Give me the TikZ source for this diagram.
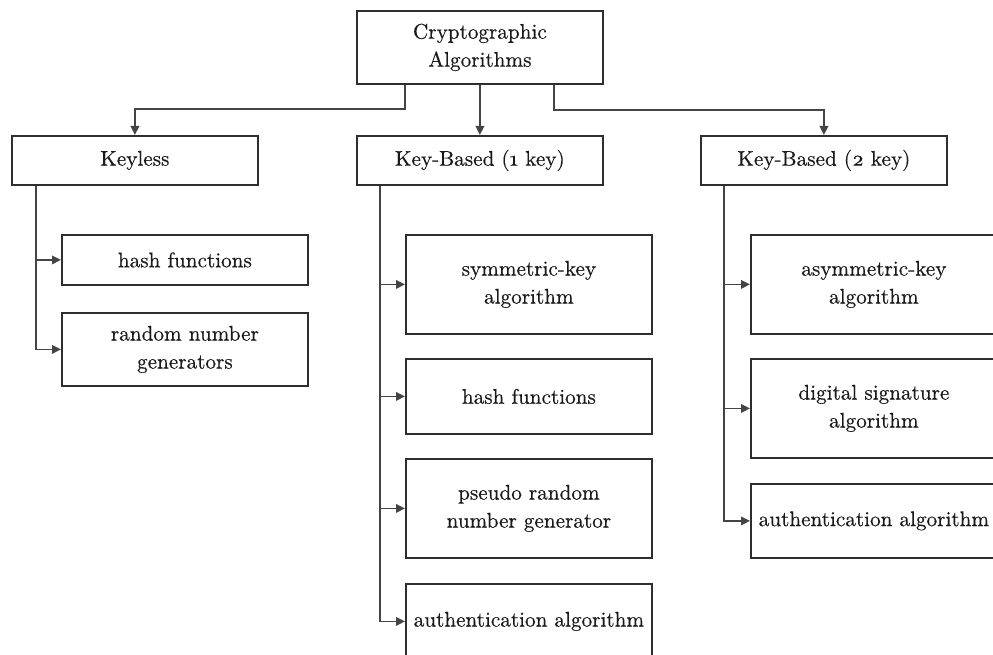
\documentclass[tikz,border=0pt]{standalone}
\usepackage{fontspec}
\setmainfont{lmroman10-regular.otf}[FakeBold=0.4]
\usetikzlibrary{arrows.meta}
\definecolor{edge}{HTML}{2E2E2E}
\definecolor{wire}{HTML}{444444}
\definecolor{ink}{HTML}{1A1A1A}
\tikzset{
  box/.style={draw=edge, line width=1.8pt, fill=white, inner sep=0pt,
    minimum width=246pt, align=center, anchor=north west, text=ink,
    font=\fontsize{21.2}{28}\selectfont},
  arr/.style={draw=wire, line width=1.7pt,
    -{Triangle[length=9pt,width=8.5pt]}},
}
\begin{document}
\begin{tikzpicture}[x=1pt, y=-1pt]
\useasboundingbox (0,0) rectangle (993,655);
\fill[white] (0,0) rectangle (993,655);
\clip (0,0) rectangle (993,655);

% top level
\node[box, minimum height=73pt] (root) at (356,10) {Cryptographic\\Algorithms};

% categories
\node[box, minimum height=49pt] (keyless) at (11,135)  {Keyless};
\node[box, minimum height=49pt] (kb1)     at (356,135) {Key-Based (\oldstylenums{1} key)};
\node[box, minimum height=49pt] (kb2)     at (700,135) {Key-Based (\oldstylenums{2} key)};

% keyless family
\node[box, minimum height=50pt] (kl1) at (61,234) {hash functions};
\node[box, minimum height=73pt] (kl2) at (61,312) {random number\\generators};

% one-key family
\node[box, minimum height=99pt] (ka1) at (405,234) {symmetric-key\\algorithm};
\node[box, minimum height=75pt] (ka2) at (405,358) {hash functions};
\node[box, minimum height=99pt] (ka3) at (405,458) {pseudo random\\number generator};
\node[box, minimum height=75pt] (ka4) at (405,583) {authentication algorithm};

% two-key family
\node[box, minimum height=99pt] (kt1) at (750,234) {asymmetric-key\\algorithm};
\node[box, minimum height=99pt] (kt2) at (750,358) {digital signature\\algorithm};
\node[box, minimum height=74pt] (kt3) at (750,483) {authentication algorithm};

% root to categories
\draw[arr] ([xshift=49pt]root.south west) -- ++(0,24) -| (keyless.north);
\draw[arr] (root.south) -- (kb1.north);
\draw[arr] ([xshift=-50pt]root.south east) -- ++(0,25) -| (kb2.north);

% categories to members
\foreach \m in {kl1,kl2}
  \draw[arr] ([xshift=25pt]keyless.south west) |- (\m.west);
\foreach \m in {ka1,ka2,ka3,ka4}
  \draw[arr] ([xshift=24pt]kb1.south west) |- (\m.west);
\foreach \m in {kt1,kt2,kt3}
  \draw[arr] ([xshift=24pt]kb2.south west) |- (\m.west);
\end{tikzpicture}
\end{document}
